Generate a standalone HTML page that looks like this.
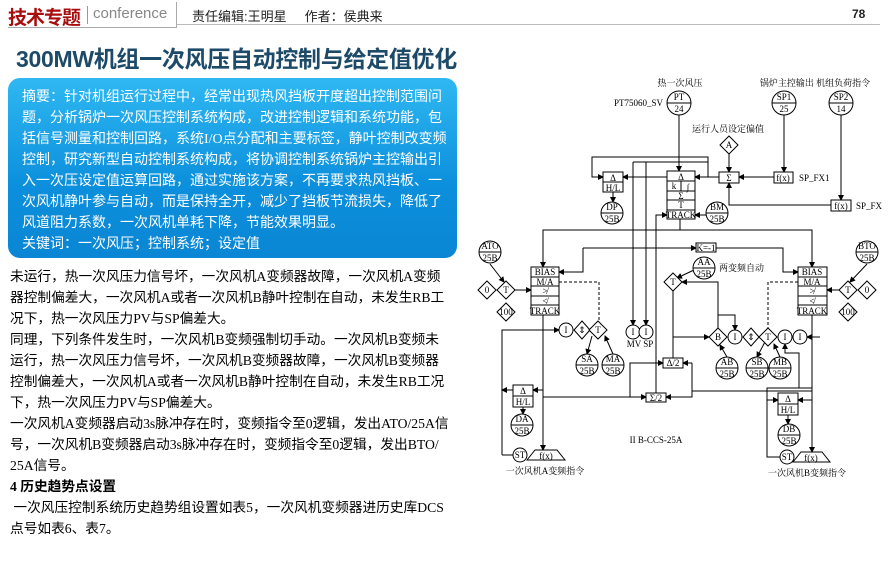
<!DOCTYPE html>
<html><head><meta charset="utf-8"><style>
body{margin:0;width:888px;height:588px;background:#fff;position:relative;overflow:hidden;font-family:"Liberation Sans","Noto Sans CJK SC",sans-serif}
.a{position:absolute;white-space:nowrap}
.abs{position:absolute;left:8px;top:78px;width:449px;height:180px;border-radius:12px;background:linear-gradient(#2fb8f2,#0c8fdc 60%,#0a86d4);}
.abs div{position:absolute;left:14px;color:#fff;font-size:14px;white-space:nowrap;font-family:"Liberation Serif","Noto Sans CJK SC",sans-serif}
.bt{position:absolute;left:10px;font-size:13.7px;color:#000;white-space:nowrap;font-family:"Liberation Serif","Noto Sans CJK SC",sans-serif}
svg text{font-family:"Liberation Serif","Noto Serif CJK SC",serif;font-size:9px}
</style></head><body>
<div class="a" style="left:8px;top:3px;font-size:19px;font-weight:bold;color:#a80e0e;letter-spacing:-1px">技术专题</div>
<div class="a" style="left:87px;top:6px;width:1px;height:18px;background:#999"></div>
<div class="a" style="left:93px;top:5px;font-size:15px;color:#888">conference</div>
<div class="a" style="left:8px;top:27px;width:168px;height:1px;background:#aaa"></div>
<div class="a" style="left:176px;top:2px;width:1px;height:26px;background:#aaa"></div>
<div class="a" style="left:177px;top:24px;width:703px;height:1px;background:#bbb"></div>
<div class="a" style="left:192px;top:6px;font-size:13px;color:#222">责任编辑:王明星&nbsp;&nbsp;&nbsp;&nbsp;&nbsp;作者：侯典来</div>
<div class="a" style="left:852px;top:7px;font-size:12px;font-weight:bold;color:#222">78</div>
<div class="a" style="left:16px;top:40px;font-size:23px;font-weight:bold;color:#1c4a68;letter-spacing:-0.3px">300MW机组一次风压自动控制与给定值优化</div>
<div class="abs">
<div style="top:8px">摘要：针对机组运行过程中，经常出现热风挡板开度超出控制范围问</div>
<div style="top:29px">题，分析锅炉一次风压控制系统构成，改进控制逻辑和系统功能，包</div>
<div style="top:50px">括信号测量和控制回路，系统I/O点分配和主要标签，静叶控制改变频</div>
<div style="top:71px">控制，研究新型自动控制系统构成，将协调控制系统锅炉主控输出引</div>
<div style="top:92px">入一次压设定值运算回路，通过实施该方案，不再要求热风挡板、一</div>
<div style="top:113px">次风机静叶参与自动，而是保持全开，减少了挡板节流损失，降低了</div>
<div style="top:134px">风道阻力系数，一次风机单耗下降，节能效果明显。</div>
<div style="top:155px">关键词：一次风压；控制系统；设定值</div>
</div>
<div class="bt" style="top:265px">未运行，热一次风压力信号坏，一次风机A变频器故障，一次风机A变频</div>
<div class="bt" style="top:286px">器控制偏差大，一次风机A或者一次风机B静叶控制在自动，未发生RB工</div>
<div class="bt" style="top:307px">况下，热一次风压力PV与SP偏差大。</div>
<div class="bt" style="top:328px">同理，下列条件发生时，一次风机B变频强制切手动。一次风机B变频未</div>
<div class="bt" style="top:349px">运行，热一次风压力信号坏，一次风机B变频器故障，一次风机B变频器</div>
<div class="bt" style="top:370px">控制偏差大，一次风机A或者一次风机B静叶控制在自动，未发生RB工况</div>
<div class="bt" style="top:391px">下，热一次风压力PV与SP偏差大。</div>
<div class="bt" style="top:412px">一次风机A变频器启动3s脉冲存在时，变频指令至0逻辑，发出ATO/25A信</div>
<div class="bt" style="top:433px">号，一次风机B变频器启动3s脉冲存在时，变频指令至0逻辑，发出BTO/</div>
<div class="bt" style="top:454px">25A信号。</div>
<div class="bt" style="top:475px;font-weight:bold">4 历史趋势点设置</div>
<div class="bt" style="top:496px">&nbsp;一次风压控制系统历史趋势组设置如表5，一次风机变频器进历史库DCS</div>
<div class="bt" style="top:517px">点号如表6、表7。</div>

<svg width="888" height="588" style="position:absolute;left:0;top:0" xmlns="http://www.w3.org/2000/svg">
<defs><marker id="m" markerWidth="6" markerHeight="6" refX="5" refY="3" orient="auto" markerUnits="userSpaceOnUse"><path d="M0,0L6,3L0,6z" fill="#000"/></marker></defs>
<g stroke="#000" stroke-width="1" fill="none">
<path d="M679,115V171" marker-end="url(#m)"/>
<path d="M784,115V172" marker-end="url(#m)"/>
<path d="M841,115V200" marker-end="url(#m)"/>
<path d="M729,153V172" marker-end="url(#m)"/>
<path d="M774,177H739" marker-end="url(#m)"/>
<path d="M831,205H729V183" marker-end="url(#m)"/>
<path d="M719,177H695" marker-end="url(#m)"/>
<path d="M708,177V157H592V177H603" marker-end="url(#m)"/>
<path d="M667,177H623" marker-end="url(#m)"/>
<path d="M613,192V202" marker-end="url(#m)"/>
<path d="M706,215H695" marker-end="url(#m)"/>
<path d="M633,162H708"/>
<path d="M633,162V325" marker-end="url(#m)"/>
<path d="M646,162V325" marker-end="url(#m)"/>
<path d="M656,393V215H667" marker-end="url(#m)"/>
<path d="M680,219V230H543V267" marker-end="url(#m)"/>
<path d="M680,230H812V267" marker-end="url(#m)"/>
<path d="M583,248H696" marker-end="url(#m)"/>
<path d="M583,248V272H559" marker-end="url(#m)"/>
<path d="M716,248H783V272H798" marker-end="url(#m)"/>
<path d="M490,264L504,282" marker-end="url(#m)"/>
<path d="M867,264L850,282" marker-end="url(#m)"/>
<path d="M515,290H531" marker-end="url(#m)"/>
<path d="M839,290H827" marker-end="url(#m)"/>
<path d="M694,270L677,278" marker-end="url(#m)"/>
<path d="M718,328V282H682" marker-end="url(#m)"/>
<path d="M718,315H735V330" marker-end="url(#m)"/>
<path d="M673,291V358"/>
<path d="M673,337H709" marker-end="url(#m)"/>
<path d="M727,357L720,345" marker-end="url(#m)"/>
<path d="M766,340L757,357" marker-end="url(#m)"/>
<path d="M780,357L774,344" marker-end="url(#m)"/>
<path d="M820,337H807" marker-end="url(#m)"/>
<path d="M799,388V353H785V344" marker-end="url(#m)"/>
<path d="M543,315V450" marker-end="url(#m)"/>
<path d="M502,455V330H559" marker-end="url(#m)"/>
<path d="M592,336L587,354" marker-end="url(#m)"/>
<path d="M613,354L605,336" marker-end="url(#m)"/>
<path d="M543,397H646" marker-end="url(#m)"/>
<path d="M630,397V363H663" marker-end="url(#m)"/>
<path d="M692,363H683" marker-end="url(#m)"/>
<path d="M692,363V397H666" marker-end="url(#m)"/>
<path d="M692,391H812"/>
<path d="M543,390H533" marker-end="url(#m)"/>
<path d="M513,390H502" marker-end="url(#m)"/>
<path d="M523,407V414" marker-end="url(#m)"/>
<path d="M502,455H513"/>
<path d="M812,315V452" marker-end="url(#m)"/>
<path d="M812,388H767V457H780"/>
<path d="M767,400H778" marker-end="url(#m)"/>
<path d="M812,400H798" marker-end="url(#m)"/>
<path d="M788,415V424" marker-end="url(#m)"/>
</g>
<g stroke="#000" stroke-width="1" fill="none" stroke-dasharray="3,2">
<path d="M559,282H599V321"/>
<path d="M798,282H768V328"/>
</g>
<g stroke="#000" fill="#fff" stroke-width="1">
<circle cx="679" cy="103" r="12"/><circle cx="784" cy="103" r="12"/><circle cx="841" cy="103" r="12"/>
<circle cx="612" cy="213" r="11"/><circle cx="717" cy="213" r="11"/>
<circle cx="490" cy="252" r="11"/><circle cx="867" cy="252" r="11"/>
<circle cx="704" cy="268" r="11"/>
<circle cx="587" cy="365" r="11"/><circle cx="613" cy="365" r="11"/>
<circle cx="727" cy="368" r="11"/><circle cx="757" cy="368" r="11"/><circle cx="780" cy="368" r="11"/>
<circle cx="522" cy="425" r="11"/><circle cx="789" cy="435" r="11"/>
<circle cx="566" cy="330" r="7"/><circle cx="633" cy="332" r="7"/><circle cx="646" cy="332" r="7"/>
<circle cx="735" cy="337" r="7"/><circle cx="785" cy="337" r="7"/><circle cx="800" cy="337" r="7"/>
<circle cx="520" cy="455" r="7"/><circle cx="787" cy="457" r="7"/>
<polygon points="729,136 738,145 729,154 720,145"/>
<polygon points="487,281 496,290 487,299 478,290"/>
<polygon points="506,281 515,290 506,299 497,290"/>
<polygon points="506,303 515,312 506,321 497,312"/>
<polygon points="848,281 857,290 848,299 839,290"/>
<polygon points="867,281 876,290 867,299 858,290"/>
<polygon points="848,303 857,312 848,321 839,312"/>
<polygon points="673,273 682,282 673,291 664,282"/>
<polygon points="582,321 590,330 582,339 574,330"/>
<polygon points="598,321 607,330 598,339 589,330"/>
<polygon points="718,328 727,337 718,346 709,337"/>
<polygon points="751,328 759,337 751,346 743,337"/>
<polygon points="768,328 777,337 768,346 759,337"/>
<rect x="719" y="172" width="20" height="11"/>
<rect x="774" y="172" width="19" height="11"/>
<rect x="831" y="200" width="20" height="11"/>
<rect x="603" y="172" width="20" height="20"/>
<rect x="667" y="171" width="28" height="48"/>
<rect x="696" y="243" width="20" height="9"/>
<rect x="531" y="267" width="28" height="48"/>
<rect x="798" y="267" width="29" height="48"/>
<rect x="663" y="358" width="20" height="10"/>
<rect x="646" y="393" width="20" height="9"/>
<rect x="513" y="385" width="20" height="22"/>
<rect x="778" y="393" width="20" height="22"/>
<polygon points="527,460 535,450 557,450 565,460"/>
<polygon points="793,462 801,452 822,452 830,462"/>
</g>
<g stroke="#000" stroke-width="1">
<path d="M667,103H691M772,103H796M829,103H853M601,213H623M706,213H728M479,252H501M856,252H878M693,268H715M576,365H598M602,365H624M716,368H738M746,368H768M769,368H791M511,425H533M778,435H800"/>
<path d="M603,182H623M513,396H533M778,404H798"/>
<path d="M667,181H695M667,191H695M667,200H695M667,210H695M681,181V191"/>
<path d="M531,277H559M531,286H559M531,296H559M531,305H559"/>
<path d="M798,277H827M798,286H827M798,296H827M798,305H827"/>
</g>
<g fill="#000" text-anchor="middle">
<text x="679" y="100">PT</text><text x="679" y="112">24</text>
<text x="784" y="100">SP1</text><text x="784" y="112">25</text>
<text x="841" y="100">SP2</text><text x="841" y="112">14</text>
<text x="612" y="210">DP</text><text x="612" y="222">25B</text>
<text x="717" y="210">BM</text><text x="717" y="222">25B</text>
<text x="490" y="249">ATO</text><text x="490" y="261">25B</text>
<text x="867" y="249">BTO</text><text x="867" y="261">25B</text>
<text x="704" y="265">AA</text><text x="704" y="277">25B</text>
<text x="587" y="362">SA</text><text x="587" y="374">25B</text>
<text x="613" y="362">MA</text><text x="613" y="374">25B</text>
<text x="727" y="365">AB</text><text x="727" y="377">25B</text>
<text x="757" y="365">SB</text><text x="757" y="377">25B</text>
<text x="780" y="365">MB</text><text x="780" y="377">25B</text>
<text x="522" y="422">DA</text><text x="522" y="434">25B</text>
<text x="789" y="432">DB</text><text x="789" y="444">25B</text>
<text x="566" y="333">I</text><text x="633" y="335">I</text><text x="646" y="335">I</text>
<text x="735" y="340">I</text><text x="785" y="340">I</text><text x="800" y="340">I</text>
<text x="520" y="458" font-size="8">ST</text><text x="787" y="460" font-size="8">ST</text>
<text x="729" y="148">A</text><text x="487" y="293">0</text><text x="506" y="293">T</text><text x="506" y="315" font-size="8">100</text>
<text x="848" y="293">T</text><text x="867" y="293">0</text><text x="848" y="315" font-size="8">100</text>
<text x="673" y="285">T</text><text x="598" y="333">T</text><text x="718" y="340">B</text><text x="768" y="340">T</text>
<text x="582" y="333">⇕</text><text x="751" y="340">⇕</text>
<text x="729" y="181">Σ</text><text x="783" y="181">f(x)</text><text x="841" y="209">f(x)</text>
<text x="613" y="181">Δ</text><text x="613" y="191">H/L</text>
<text x="523" y="394">Δ</text><text x="523" y="405">H/L</text>
<text x="788" y="402">Δ</text><text x="788" y="413">H/L</text>
<text x="681" y="180">Δ</text><text x="674" y="189">k</text><text x="688" y="190">∫</text><text x="681" y="199">Σ</text><text x="681" y="208">T</text><text x="681" y="218" font-size="8">TRACK</text>
<text x="706" y="251" font-size="8">K=-1</text>
<text x="545" y="275" font-size="8">BIAS</text><text x="545" y="285" font-size="8">M/A</text><text x="545" y="294">≯</text><text x="545" y="304">≮</text><text x="545" y="314" font-size="8">TRACK</text>
<text x="812" y="275" font-size="8">BIAS</text><text x="812" y="285" font-size="8">M/A</text><text x="812" y="294">≯</text><text x="812" y="304">≮</text><text x="812" y="314" font-size="8">TRACK</text>
<text x="673" y="366">Δ/2</text><text x="656" y="401">Σ/2</text>
<text x="546" y="459">f(x)</text><text x="811" y="461">f(x)</text>
<text x="640" y="347" font-size="8">MV SP</text>
<text x="656" y="443" font-size="8">II B-CCS-25A</text>
<text x="680" y="86" font-size="10">热一次风压</text>
<text x="815" y="86" font-size="10">锅炉主控输出 机组负荷指令</text>
<text x="728" y="132" font-size="10">运行人员设定偏值</text>
<text x="545" y="474" font-size="10">一次风机A变频指令</text>
<text x="807" y="476" font-size="10">一次风机B变频指令</text>
</g>
<g fill="#000">
<text x="614" y="106">PT75060_SV</text>
<text x="799" y="181">SP_FX1</text>
<text x="856" y="209">SP_FX</text>
<text x="719" y="271" font-size="10">两变频自动</text>
</g>
</svg>
</body></html>
